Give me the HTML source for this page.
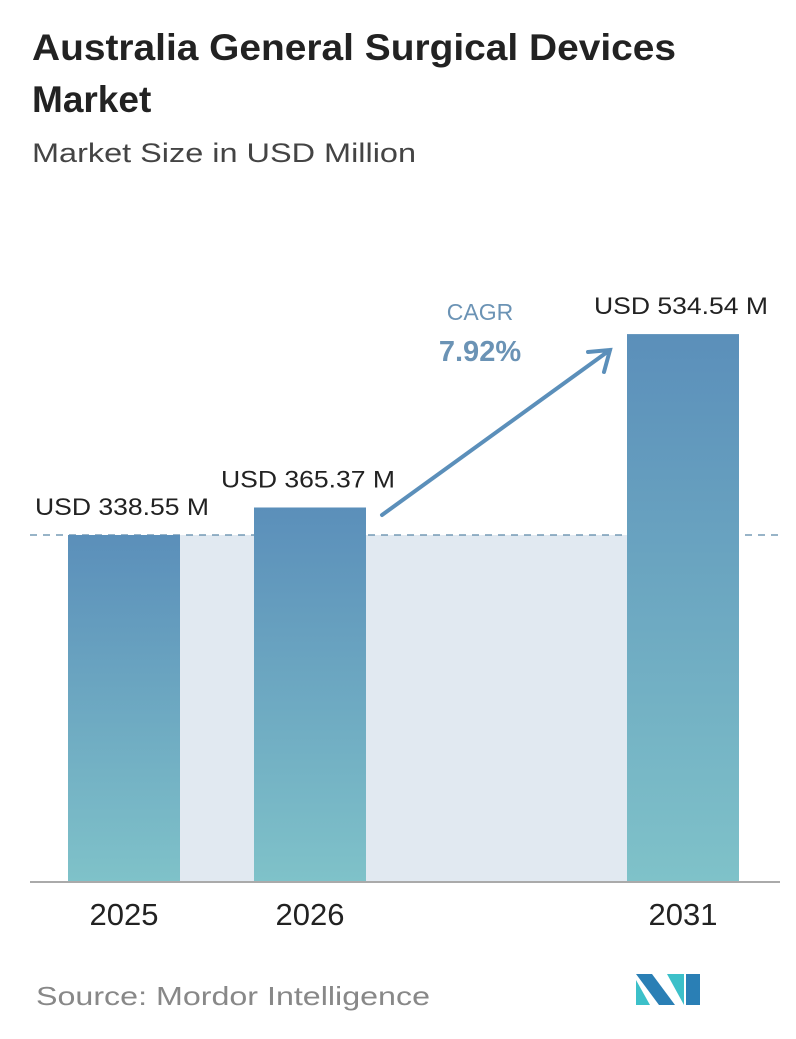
<!DOCTYPE html>
<html><head><meta charset="utf-8"><style>
body{margin:0;background:#fff;font-family:"Liberation Sans",sans-serif;}
svg text{font-family:"Liberation Sans",sans-serif;}
</style></head><body>
<svg width="796" height="1034" viewBox="0 0 796 1034">
<defs>
<linearGradient id="g" x1="0" y1="0" x2="0" y2="1">
<stop offset="0" stop-color="#5b8fba"/><stop offset="1" stop-color="#7fc2c9"/>
</linearGradient>
</defs>
<text x="32" y="60" font-size="37" font-weight="bold" fill="#222" textLength="644" lengthAdjust="spacingAndGlyphs">Australia General Surgical Devices</text>
<text x="32" y="112" font-size="37" font-weight="bold" fill="#222">Market</text>
<text x="32" y="162" font-size="27" fill="#444" textLength="384" lengthAdjust="spacingAndGlyphs">Market Size in USD Million</text>
<g id="plot"></g>
<text x="36" y="1005" font-size="26" fill="#888" textLength="394" lengthAdjust="spacingAndGlyphs">Source:  Mordor Intelligence</text>
<g>
<polygon points="636,974 652,974 675,1005 659,1005" fill="#2a7fb5"/>
<polygon points="636,980 636,1005 650,1005" fill="#3cc0c9"/>
<polygon points="667,974 684,974 684,1005" fill="#3cc0c9"/>
<polygon points="686,974 700,974 700,1005 686,1005" fill="#2a7fb5"/>
</g>
</svg>
<script>
const categories=["2025","2026","2031"];
const values=[338.55,365.37,534.54];
const labels=["USD 338.55 M","USD 365.37 M","USD 534.54 M"];
const cagr="7.92%";
const NS="http://www.w3.org/2000/svg";
const g=document.getElementById('plot');
const base=882, k=1.025;
const xs=[68,254,627], bw=112;
function y(v){return base-v*k;}
function mk(t,a){const e=document.createElementNS(NS,t);for(const n in a)e.setAttribute(n,a[n]);g.appendChild(e);return e;}
const y0=y(values[0]);
let r=mk('rect',{x:xs[0]+bw,y:y0,width:xs[2]-xs[0]-bw,height:base-y0,fill:'#e1e9f1'});


let d=mk('line',{x1:30,x2:780,y1:y0,y2:y0,stroke:'#5b87a8','stroke-width':1.3,'stroke-dasharray':'7,6'});


values.forEach((v,i)=>{
 const b=mk('rect',{x:xs[i],y:y(v),width:bw,height:base-y(v),fill:'url(#g)'});
 
 
 const lx=xs[i]+bw/2-2;
 const t=mk('text',{x:lx,y:y(v)-20,'font-size':24,fill:'#222','text-anchor':'middle',textLength:174,lengthAdjust:'spacingAndGlyphs'});
 t.textContent=labels[i];
 
 
 const c=mk('text',{x:xs[i]+bw/2,y:925,'font-size':31,fill:'#222','text-anchor':'middle'});
 c.textContent=categories[i];
 
 
});
let ax=mk('line',{x1:30,x2:780,y1:base,y2:base,stroke:'#aaa','stroke-width':2});


let ar=mk('path',{d:'M382,515 L610,350 M588,352 L610,350 L604,372',stroke:'#5b8fba','stroke-width':4,fill:'none','stroke-linecap':'round'});


let c1=mk('text',{x:480,y:320,'font-size':23,fill:'#6b93b5','text-anchor':'middle'});
c1.textContent='CAGR';


let c2=mk('text',{x:480,y:361,'font-size':29,'font-weight':'bold',fill:'#6b93b5','text-anchor':'middle'});
c2.textContent=cagr;


</script>
</body></html>
